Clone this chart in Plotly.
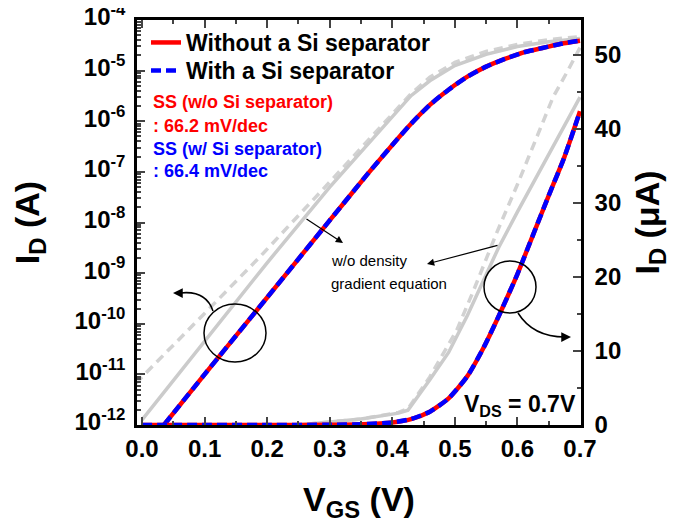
import plotly.graph_objects as go

# ---------------- data ----------------
# log-scale transfer curves (left axis, A)
vgs_log_main = [0.035, 0.10, 0.20, 0.30, 0.36, 0.40, 0.43, 0.46, 0.49, 0.52, 0.55, 0.58, 0.61, 0.64, 0.67, 0.70]
id_log_without = [1.0e-12, 1.0e-11, 3.3e-10, 1.1e-8, 8.9e-8, 3.4e-7, 8.9e-7, 2.1e-6, 4.2e-6, 7.6e-6, 1.2e-5, 1.7e-5, 2.3e-5, 2.8e-5, 3.4e-5, 3.9e-5]
id_log_with = [1.0e-12, 1.0e-11, 3.3e-10, 1.1e-8, 8.9e-8, 3.4e-7, 8.9e-7, 2.1e-6, 4.2e-6, 7.6e-6, 1.2e-5, 1.7e-5, 2.3e-5, 2.8e-5, 3.4e-5, 3.9e-5]

vgs_log_gray_solid = [0.0, 0.10, 0.20, 0.30, 0.35, 0.40, 0.43, 0.46, 0.50, 0.55, 0.60, 0.65, 0.70]
id_log_gray_solid = [1.26e-12, 4.5e-11, 1.6e-9, 5.0e-8, 2.5e-7, 1.26e-6, 3.2e-6, 6.3e-6, 1.26e-5, 2.1e-5, 3.0e-5, 3.7e-5, 4.3e-5]

vgs_log_gray_dash = [-0.01, 0.0, 0.10, 0.19, 0.30, 0.35, 0.40, 0.43, 0.46, 0.50, 0.55, 0.60, 0.65, 0.70]
id_log_gray_dash = [6.6e-12, 8.9e-12, 1.6e-10, 2.2e-9, 6.3e-8, 3.0e-7, 1.4e-6, 3.5e-6, 7.4e-6, 1.45e-5, 2.4e-5, 3.3e-5, 4.1e-5, 4.7e-5]

# linear-scale transfer curves (right axis, uA)
vgs_lin_main = [0.0, 0.10, 0.20, 0.30, 0.35, 0.40, 0.43, 0.46, 0.49, 0.52, 0.545, 0.57, 0.60, 0.625, 0.65, 0.675, 0.70]
id_lin_without = [0, 0, 0, 0.03, 0.1, 0.35, 0.8, 1.8, 3.6, 6.6, 10.3, 14.7, 20.4, 25.7, 31.0, 36.2, 42.4]
id_lin_with = [0, 0, 0, 0.03, 0.1, 0.35, 0.8, 1.8, 3.6, 6.6, 10.3, 14.7, 20.4, 25.7, 31.0, 36.2, 42.4]

vgs_lin_gray_solid = [0.0, 0.25, 0.30, 0.35, 0.41, 0.425, 0.46, 0.49, 0.52, 0.545, 0.57, 0.60, 0.63, 0.665, 0.70]
id_lin_gray_solid = [0, 0, 0.4, 0.8, 1.6, 2.0, 6.1, 9.8, 14.8, 19.4, 24.0, 28.8, 33.5, 38.9, 44.3]

vgs_lin_gray_dash = [0.0, 0.25, 0.30, 0.35, 0.41, 0.425, 0.46, 0.487, 0.503, 0.53, 0.551, 0.567, 0.60, 0.636, 0.657, 0.68, 0.70]
id_lin_gray_dash = [0, 0, 0.4, 0.8, 1.7, 2.2, 6.5, 10.5, 12.8, 18.2, 22.7, 26.0, 32.5, 39.9, 44.3, 47.8, 51.0]

x_ticks = [0.0, 0.1, 0.2, 0.3, 0.4, 0.5, 0.6, 0.7]
log_tickvals = [1e-12, 1e-11, 1e-10, 1e-9, 1e-8, 1e-7, 1e-6, 1e-5, 1e-4]
log_ticktext = ["10<sup>-12</sup>", "10<sup>-11</sup>", "10<sup>-10</sup>", "10<sup>-9</sup>", "10<sup>-8</sup>",
                "10<sup>-7</sup>", "10<sup>-6</sup>", "10<sup>-5</sup>", "10<sup>-4</sup>"]
log_minor_vals = [m * d for d in log_tickvals[:-1] for m in range(2, 10)]
lin_ticks = [0, 10, 20, 30, 40, 50]

legend_names = ["Without a Si separator", "With a Si separator"]

# ---------------- styling ----------------
FONT = "Liberation Sans, Arial, sans-serif"
RED = "#ff0000"
BLUE = "#0000ff"
GRAY = "#cbcbcb"
GRAY_D = "#d2d2d2"
# the page body has an 8px margin, so the figure is drawn 8px in from the window corner
OFF = 8
W, H = 692 - OFF, 529 - OFF
L, T = 137 - OFF, 20 - OFF
R, B = 692 - 581, 529 - 425
PW, PH = W - L - R, H - T - B


def px(x):  # window pixel -> paper x
    return (x - OFF - L) / PW


def py(y):  # window pixel -> paper y
    return (H - B - (y - OFF)) / PH


fig = go.Figure()

# gray reference curves (w/o density gradient equation)
fig.add_trace(go.Scatter(x=vgs_log_gray_dash, y=id_log_gray_dash, mode="lines", showlegend=False,
                         line=dict(color=GRAY_D, width=3.5, dash="9px,6px")))
fig.add_trace(go.Scatter(x=vgs_log_gray_solid, y=id_log_gray_solid, mode="lines", showlegend=False,
                         line=dict(color=GRAY, width=3.5)))
fig.add_trace(go.Scatter(x=vgs_lin_gray_dash, y=id_lin_gray_dash, mode="lines", showlegend=False, yaxis="y2",
                         line=dict(color=GRAY_D, width=3.5, dash="9px,6px")))
fig.add_trace(go.Scatter(x=vgs_lin_gray_solid, y=id_lin_gray_solid, mode="lines", showlegend=False, yaxis="y2",
                         line=dict(color=GRAY, width=3.5)))

# main curves
fig.add_trace(go.Scatter(x=vgs_log_main, y=id_log_without, mode="lines", name=legend_names[0], legend="legend",
                         line=dict(color=RED, width=4.5, shape="spline", smoothing=0.6)))
fig.add_trace(go.Scatter(x=vgs_lin_main, y=id_lin_without, mode="lines", showlegend=False, yaxis="y2",
                         line=dict(color=RED, width=4.5, shape="spline", smoothing=0.6)))
fig.add_trace(go.Scatter(x=vgs_log_main, y=id_log_with, mode="lines", name=legend_names[1], legend="legend2",
                         line=dict(color=BLUE, width=4.5, dash="10px,5px", shape="spline", smoothing=0.6)))
fig.add_trace(go.Scatter(x=vgs_lin_main, y=id_lin_with, mode="lines", showlegend=False, yaxis="y2",
                         line=dict(color=BLUE, width=4.5, dash="10px,5px", shape="spline", smoothing=0.6)))

tickfont = dict(family=FONT, size=24, color="black", weight="bold")
titlefont = dict(family=FONT, size=34, color="black", weight="bold")
legfont = dict(family=FONT, size=23, color="black", weight="bold")

fig.update_layout(
    width=W, height=H,
    margin=dict(l=L, r=R, t=T, b=B, autoexpand=False),
    paper_bgcolor="white", plot_bgcolor="white",
    font=dict(family=FONT, color="black"),
    showlegend=True,
    legend=dict(x=px(146), y=py(21), xanchor="left", yanchor="top", bgcolor="rgba(0,0,0,0)",
                borderwidth=0, itemwidth=30, font=legfont),
    legend2=dict(x=px(146), y=py(49), xanchor="left", yanchor="top", bgcolor="rgba(0,0,0,0)",
                 borderwidth=0, itemwidth=30, font=legfont),
    xaxis=dict(range=[-0.008, 0.7016], tickvals=x_ticks, tickformat=".1f", ticks="inside", ticklen=8, tickwidth=2,
               showline=True, linewidth=2.5, linecolor="black", mirror="ticks", showgrid=False, zeroline=False,
               tickfont=tickfont, ticklabelstandoff=0, automargin=False, ticklabeloverflow="allow",
               minor=dict(dtick=0.05, tick0=0, ticks="inside", ticklen=4, tickwidth=1.5, showgrid=False),
               title=dict(text="V<sub>GS</sub> (V)", font=titlefont, standoff=27)),
    yaxis=dict(type="log", range=[-12, -4], tickvals=log_tickvals, ticktext=log_ticktext, ticks="inside",
               ticklen=8, tickwidth=2, showline=True, linewidth=2.5, linecolor="black", mirror=False,
               showgrid=False, zeroline=False, tickfont=tickfont, ticklabelstandoff=4, automargin=False,
               ticklabeloverflow="allow", ticklabelshift=-3,
               minor=dict(tickmode="array", tickvals=log_minor_vals, ticks="inside", ticklen=4, tickwidth=1.5,
                          showgrid=False),
               title=dict(text="I<sub>D</sub> (A)", font=titlefont, standoff=29)),
    yaxis2=dict(range=[0, 54.73], tickvals=lin_ticks, overlaying="y", side="right", ticks="inside", ticklen=8,
                tickwidth=2, showline=True, linewidth=2.5, linecolor="black", showgrid=False, zeroline=False,
                tickfont=tickfont, ticklabelstandoff=6, automargin=False, ticklabeloverflow="allow",
                minor=dict(dtick=5, tick0=0, ticks="inside", ticklen=4, tickwidth=1.5, showgrid=False),
                title=dict(text="I<sub>D</sub> (μA)", font=titlefont, standoff=15)),
)

ann = []
bold18 = dict(family=FONT, size=18, weight="bold")
for text, color, y in [("SS (w/o Si separator)", RED, 102), (": 66.2 mV/dec", RED, 126),
                       ("SS (w/ Si separator)", BLUE, 149), (": 66.4 mV/dec", BLUE, 171)]:
    ann.append(dict(xref="paper", yref="paper", x=px(151), y=py(y), xanchor="left", yanchor="middle",
                    text=text, showarrow=False, font=dict(bold18, color=color)))
for text, y in [("w/o density", 260), ("gradient equation", 283)]:
    ann.append(dict(xref="paper", yref="paper", x=px(329), y=py(y), xanchor="left", yanchor="middle",
                    text=text, showarrow=False, font=dict(family=FONT, size=15, color="black")))
ann.append(dict(xref="paper", yref="paper", x=px(578), y=py(405), xanchor="right", yanchor="middle",
                text="V<sub>DS</sub> = 0.7V", showarrow=False,
                font=dict(family=FONT, size=23, color="black", weight="bold")))
# straight arrows
ann.append(dict(xref="paper", yref="paper", x=px(343), y=py(243), ax=-38, ay=-25, text="", showarrow=True,
                arrowhead=2, arrowsize=1.2, arrowwidth=1.2, arrowcolor="black"))
ann.append(dict(xref="paper", yref="paper", x=px(427), y=py(264), ax=72, ay=-19, text="", showarrow=True,
                arrowhead=2, arrowsize=1.2, arrowwidth=1.2, arrowcolor="black"))
# arrowheads of curved arrows
ann.append(dict(xref="paper", yref="paper", x=px(173), y=py(293), ax=10, ay=0, text="", showarrow=True,
                arrowhead=2, arrowsize=1.3, arrowwidth=1.5, arrowcolor="black"))
ann.append(dict(xref="paper", yref="paper", x=px(571), y=py(337), ax=-10, ay=0, text="", showarrow=True,
                arrowhead=2, arrowsize=1.3, arrowwidth=1.5, arrowcolor="black"))
fig.update_layout(annotations=ann)

shapes = [
    dict(type="circle", xref="paper", yref="paper", x0=px(204), x1=px(266), y0=py(362), y1=py(304),
         line=dict(color="black", width=1.5)),
    dict(type="circle", xref="paper", yref="paper", x0=px(484), x1=px(536), y0=py(313), y1=py(261),
         line=dict(color="black", width=1.5)),
    dict(type="path", xref="paper", yref="paper",
         path=f"M {px(213)},{py(311)} Q {px(206)},{py(290)} {px(180)},{py(293)}",
         line=dict(color="black", width=1.5)),
    dict(type="path", xref="paper", yref="paper",
         path=f"M {px(518)},{py(313)} Q {px(533)},{py(337)} {px(565)},{py(337)}",
         line=dict(color="black", width=1.5)),
]
fig.update_layout(shapes=shapes)

fig.write_html("out.html")
